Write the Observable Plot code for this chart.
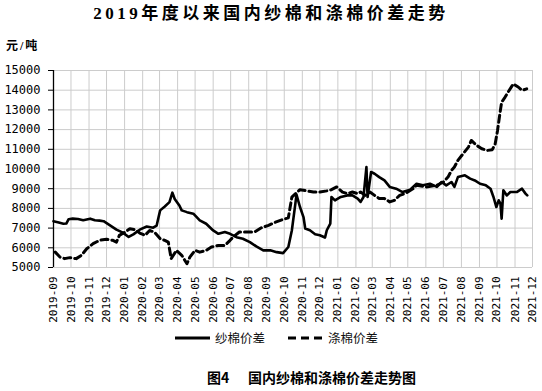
<!DOCTYPE html>
<html><head><meta charset="utf-8">
<script src="https://cdn.jsdelivr.net/npm/d3@7"></script>
<script src="https://cdn.jsdelivr.net/npm/@observablehq/plot@0.6"></script>
<style>
body{margin:0;background:#fff;}
#wrap{position:relative;width:542px;height:391px;overflow:hidden;background:#fff;}
#title{position:absolute;left:0;top:3px;width:542px;text-align:center;font-weight:600;font-size:17px;font-family:"Liberation Serif","Noto Sans CJK SC",serif;letter-spacing:3.5px;line-height:22px;color:#000;white-space:nowrap;}
#unit{position:absolute;left:6px;top:38px;font-weight:bold;font-size:12px;font-family:"Liberation Serif","Noto Sans CJK SC",serif;letter-spacing:2px;line-height:16px;color:#000;}
#chart{position:absolute;left:0;top:0;}
.lg{position:absolute;font-size:12.5px;font-family:"Noto Sans CJK SC",sans-serif;line-height:16px;color:#111;top:330px;white-space:nowrap;}
.lgs{position:absolute;top:333px;}
.cap{position:absolute;top:368px;font-weight:bold;font-size:14px;font-family:"Noto Sans CJK SC","Liberation Sans",sans-serif;line-height:18px;color:#000;white-space:nowrap;}
</style></head>
<body>
<div id="wrap">
  <div id="title"></div>
  <div id="unit"></div>
  <div id="chart"></div>
</div>
<script>
// ---- data ----
const titleText = "2019年度以来国内纱棉和涤棉价差走势";
const unitText = "元/吨";
const seriesNames = ["纱棉价差", "涤棉价差"];
const captionNo = "图4";
const captionText = "国内纱棉和涤棉价差走势图";

const xTickLabels = ["2019-09","2019-10","2019-11","2019-12","2020-01","2020-02","2020-03","2020-04","2020-05","2020-06","2020-07","2020-08","2020-09","2020-10","2020-11","2020-12","2021-01","2021-02","2021-03","2021-04","2021-05","2021-06","2021-07","2021-08","2021-09","2021-10","2021-11","2021-12"];
const yTicks = [5000,6000,7000,8000,9000,10000,11000,12000,13000,14000,15000];

const yarnDates = ["2019-09-01","2019-09-10","2019-09-18","2019-09-23","2019-09-27","2019-10-04","2019-10-13","2019-10-22","2019-11-03","2019-11-11","2019-11-19","2019-11-26","2019-12-07","2019-12-18","2019-12-29","2020-01-08","2020-01-16","2020-01-27","2020-02-08","2020-02-19","2020-02-25","2020-03-02","2020-03-10","2020-03-18","2020-03-23","2020-03-27","2020-04-04","2020-04-08","2020-04-17","2020-04-28","2020-05-09","2020-05-20","2020-06-01","2020-06-10","2020-06-21","2020-06-30","2020-07-11","2020-07-22","2020-08-03","2020-08-14","2020-08-26","2020-09-07","2020-09-18","2020-09-29","2020-10-08","2020-10-14","2020-10-20","2020-10-22","2020-10-28","2020-11-03","2020-11-06","2020-11-14","2020-11-23","2020-12-01","2020-12-10","2020-12-13","2020-12-19","2020-12-21","2020-12-27","2021-01-06","2021-01-17","2021-01-26","2021-02-04","2021-02-09","2021-02-14","2021-02-19","2021-02-21","2021-02-27","2021-03-05","2021-03-13","2021-03-22","2021-03-31","2021-04-11","2021-04-22","2021-05-05","2021-05-16","2021-05-27","2021-06-08","2021-06-20","2021-06-28","2021-07-06","2021-07-15","2021-07-20","2021-07-26","2021-08-07","2021-08-16","2021-08-24","2021-09-02","2021-09-12","2021-09-20","2021-09-25","2021-09-30","2021-10-04","2021-10-07","2021-10-09","2021-10-12","2021-10-18","2021-10-24","2021-11-04","2021-11-13","2021-11-19","2021-11-22"];
const yarnValues = [7350,7280,7220,7230,7450,7480,7460,7400,7480,7400,7380,7350,7140,6920,6770,6550,6680,6920,7080,7020,7130,7900,8100,8320,8800,8480,8150,7900,7810,7730,7390,7220,6880,6710,6800,6710,6540,6460,6290,6070,5870,5870,5780,5730,6040,6880,8230,8700,8070,7560,6980,6890,6690,6640,6520,6890,7230,8580,8410,8580,8660,8660,8500,8330,8580,10100,8580,9850,9760,9590,9420,9090,9000,8830,8950,9250,9170,9250,9090,9340,9170,9340,9090,9590,9680,9510,9420,9250,9170,9000,8580,8070,8410,8240,7480,8920,8660,8830,8830,9000,8750,8660];

const polyDates = ["2019-09-04","2019-09-12","2019-09-20","2019-09-29","2019-10-10","2019-10-19","2019-10-28","2019-11-08","2019-11-19","2019-12-01","2019-12-12","2019-12-18","2019-12-23","2020-01-02","2020-01-10","2020-01-19","2020-01-27","2020-02-05","2020-02-13","2020-02-21","2020-03-02","2020-03-10","2020-03-16","2020-03-21","2020-03-30","2020-04-08","2020-04-17","2020-04-22","2020-05-01","2020-05-09","2020-05-20","2020-05-29","2020-06-10","2020-06-21","2020-06-30","2020-07-05","2020-07-16","2020-07-31","2020-08-11","2020-08-23","2020-09-04","2020-09-16","2020-09-27","2020-10-08","2020-10-14","2020-10-20","2020-10-28","2020-11-09","2020-11-20","2020-12-01","2020-12-13","2020-12-21","2020-12-30","2021-01-09","2021-01-17","2021-01-26","2021-02-04","2021-02-09","2021-02-17","2021-02-25","2021-03-05","2021-03-13","2021-03-22","2021-03-31","2021-04-08","2021-04-17","2021-04-28","2021-05-10","2021-05-16","2021-06-02","2021-06-20","2021-07-01","2021-07-09","2021-07-15","2021-07-20","2021-07-26","2021-08-04","2021-08-13","2021-08-18","2021-08-27","2021-09-05","2021-09-14","2021-09-23","2021-09-28","2021-10-02","2021-10-06","2021-10-09","2021-10-15","2021-10-20","2021-10-29","2021-11-07","2021-11-13","2021-11-21"];
const polyValues = [5780,5530,5450,5500,5450,5620,5950,6210,6380,6430,6380,6290,6630,6800,6970,6920,6750,6630,6880,6800,6460,6380,6290,5450,5870,5620,5190,5530,5870,5780,5870,6040,6120,6120,6380,6540,6800,6800,6800,7020,7140,7300,7420,7520,8570,8740,8950,8890,8830,8830,8890,8950,9090,8830,8750,8830,8750,8830,8660,8830,8660,8500,8500,8330,8410,8660,8780,9000,9170,9090,9170,9340,9590,9930,10100,10440,10780,11110,11450,11200,11030,10940,10980,11280,11960,12800,13390,13650,13900,14320,14150,13990,14070];

// ---- build ----
const parseDay = d3.utcParse("%Y-%m-%d");
const parseMonth = d3.utcParse("%Y-%m");
const yarn = yarnDates.map((d, i) => ({date: parseDay(d), value: yarnValues[i]}));
const poly = polyDates.map((d, i) => ({date: parseDay(d), value: polyValues[i]}));
const xTicks = xTickLabels.map(parseMonth);
const xStart = xTicks[0], xEnd = xTicks[xTicks.length - 1];

document.getElementById("title").textContent = titleText;
document.getElementById("unit").textContent = unitText;

const grid = {stroke: "#cccccc", strokeWidth: 1};

const chart = Plot.plot({
  width: 542,
  height: 340,
  marginLeft: 53,
  marginRight: 10,
  marginTop: 70,
  marginBottom: 73,
  style: {background: "transparent", color: "#000", fontFamily: "'DejaVu Sans Mono', monospace"},
  x: {type: "utc", domain: [xStart, xEnd]},
  y: {domain: [5000, 15000]},
  marks: [
    Plot.ruleY(yTicks, grid),
    Plot.ruleX(xTicks.slice(1), grid),
    Plot.line(yarn, {x: "date", y: "value", stroke: "#000", strokeWidth: 2.6, strokeLinejoin: "round"}),
    Plot.line(poly, {x: "date", y: "value", stroke: "#000", strokeWidth: 3, strokeDasharray: "7,4"}),
    Plot.ruleX([xStart], {stroke: "#000", strokeWidth: 1.3}),
    Plot.axisY(yTicks, {tickSize: 5, tickPadding: 8, fontSize: 12, label: null, tickFormat: d => String(d)}),
    Plot.axisX(xTicks, {tickSize: 0, tickPadding: 9, tickRotate: -90, fontSize: 11, label: null, tickFormat: d3.utcFormat("%Y-%m")})
  ]
});
document.getElementById("chart").appendChild(chart);

// legend
const wrap = document.getElementById("wrap");
function legendItem(a, b, textX, name, dash) {
  const svg = d3.select(wrap).append("svg").attr("class", "lgs")
    .attr("width", b - a + 2).attr("height", 10)
    .style("left", (a - 1) + "px");
  svg.append("line").attr("x1", 1).attr("x2", b - a + 1).attr("y1", 5).attr("y2", 5)
    .attr("stroke", "#000").attr("stroke-width", 3)
    .attr("stroke-dasharray", dash || null);
  d3.select(wrap).append("div").attr("class", "lg").style("left", textX + "px").text(name);
}
legendItem(175, 210, 215, seriesNames[0], null);
legendItem(288, 322, 328, seriesNames[1], "8,5");

d3.select(wrap).append("div").attr("class", "cap").style("left", "207px").text(captionNo);
d3.select(wrap).append("div").attr("class", "cap").style("left", "248px").text(captionText);
</script>
</body></html>
